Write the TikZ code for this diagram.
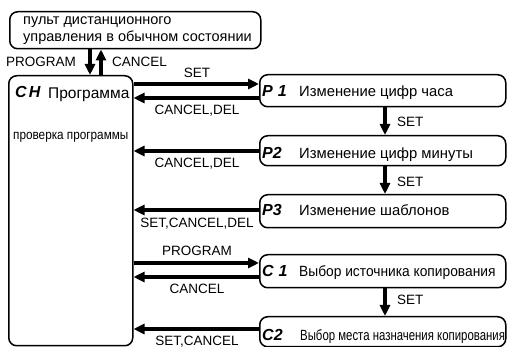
\documentclass[tikz,border=0pt]{standalone}
\usepackage{fontspec}
\usepackage{graphicx}
\setmainfont{Liberation Sans}
\usetikzlibrary{arrows.meta}
\begin{document}
\begin{tikzpicture}[x=1pt,y=-1pt,
 box/.style={draw, line width=1.5pt, rounded corners=8pt, inner sep=0, anchor=north west},
 arr/.style={line width=3.2pt, -{Triangle[length=11pt,width=10pt]}},
 lbl/.style={font=\fontsize{13.5}{15}\selectfont, inner sep=0, anchor=base},
 txt/.style={font=\fontsize{14.8}{16}\selectfont, inner sep=0, anchor=base west},
 seg/.style={font=\fontsize{16}{17}\selectfont\bfseries\itshape, inner sep=0, anchor=base west}]
\useasboundingbox (0,0) rectangle (507,347);
% boxes
\node[box, minimum width=251pt, minimum height=37pt] (top) at (9,11) {};
\node[box, minimum width=124pt, minimum height=270pt] (main) at (8,75) {};
\node[box, minimum width=246pt, minimum height=32pt] (p1) at (259,74) {};
\node[box, minimum width=246pt, minimum height=30pt] (p2) at (259,135) {};
\node[box, minimum width=246pt, minimum height=33pt] (p3) at (259,194) {};
\node[box, minimum width=246pt, minimum height=33pt] (c1) at (259,254) {};
\node[box, minimum width=246pt, minimum height=30pt] (c2) at (259,316) {};
% texts
\node[txt, font=\fontsize{14.5}{17}\selectfont] (t1) at (23,25) {пульт дистанционного};
\node[txt, font=\fontsize{14.5}{17}\selectfont] (t2) at (23,42) {управления в обычном состоянии};
\node[seg] (chs) at (15,98) {C\kern2pt H};
\node[txt, font=\fontsize{15.5}{17}\selectfont] (cht) at (48,99) {Программа};
\node[txt, font=\fontsize{13.5}{15}\selectfont] (chc) at (13,140) {\scalebox{0.87}[1]{проверка программы}};
\node[seg] (p1s) at (262,97) {P\kern5pt 1};
\node[txt] (p1t) at (299,97) {Изменение цифр часа};
\node[seg] (p2s) at (262,159) {P2};
\node[txt] (p2t) at (299,159) {Изменение цифр минуты};
\node[seg] (p3s) at (262,216) {P3};
\node[txt] (p3t) at (299,216) {Изменение шаблонов};
\node[seg] (c1s) at (262,277) {C\kern5pt 1};
\node[txt] (c1t) at (299,277) {\scalebox{0.93}[1]{Выбор источника копирования}};
\node[seg] (c2s) at (262,341) {C2};
\node[txt] (c2t) at (300,341) {\scalebox{0.77}[1]{Выбор места назначения копирования}};
% vertical connectors top <-> main
\draw[arr] (top.south -| 90,0) -- (main.north -| 90,0);
\draw[arr] (main.north -| 101,0) -- (top.south -| 101,0);
\node[lbl, anchor=base east] (lprog) at (76,67) {PROGRAM};
\node[lbl, anchor=base west] (lcanc) at (112,67) {CANCEL};
% horizontal connectors
\draw[arr] (main.east |- 0,84) -- (p1.west |- 0,84);
\draw[arr] (p1.west |- 0,98) -- (main.east |- 0,98);
\draw[arr] (p2.west |- 0,151) -- (main.east |- 0,151);
\draw[arr] (p3.west |- 0,210) -- (main.east |- 0,210);
\draw[arr] (main.east |- 0,263) -- (c1.west |- 0,263);
\draw[arr] (c1.west |- 0,277) -- (main.east |- 0,277);
\draw[arr] (c2.west |- 0,329) -- (main.east |- 0,329);
\node[lbl] (l1) at (197,78) {SET};
\node[lbl] (l2) at (197,115) {CANCEL,DEL};
\node[lbl] (l3) at (197,168) {CANCEL,DEL};
\node[lbl] (l4) at (197,228) {SET,CANCEL,DEL};
\node[lbl] (l5) at (197,256) {PROGRAM};
\node[lbl] (l6) at (197,294) {CANCEL};
\node[lbl] (l7) at (197,346) {SET,CANCEL};
% vertical connectors on the right
\draw[arr] (p1.south -| 385,0) -- (p2.north -| 385,0);
\draw[arr] (p2.south -| 385,0) -- (p3.north -| 385,0);
\draw[arr] (c1.south -| 385,0) -- (c2.north -| 385,0);
\node[lbl, anchor=base west] (v1) at (397,127) {SET};
\node[lbl, anchor=base west] (v2) at (397,187) {SET};
\node[lbl, anchor=base west] (v3) at (397,305) {SET};
\end{tikzpicture}
\end{document}
